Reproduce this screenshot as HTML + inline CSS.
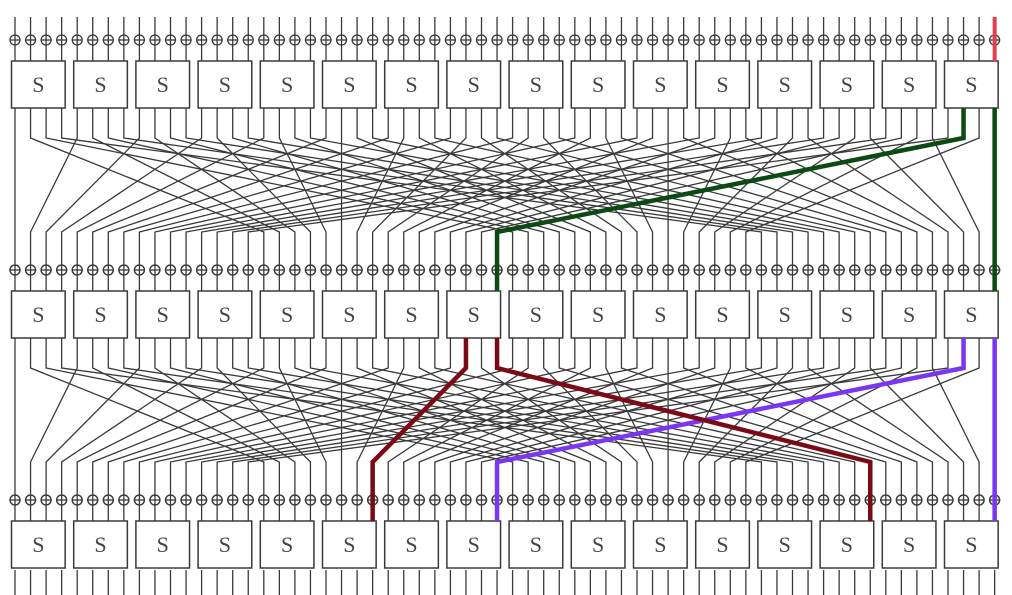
<!DOCTYPE html>
<html><head><meta charset="utf-8"><style>
html,body{margin:0;padding:0;background:#fff;}
svg{display:block;}
</style></head><body>
<svg id="net" width="1012" height="595" viewBox="0 0 1012 595" xmlns="http://www.w3.org/2000/svg"></svg>
<script>
const NS='http://www.w3.org/2000/svg';
const svg=document.getElementById('net');
const X0=15, DX=15.55;
const layerOffsets=[0,230,460];
const wx=i=>X0+i*DX;
const perm=i=>Math.floor(i/4)+16*(i%4);
// highlighted trails: [layer, fromWire, color]
const trails=[[0,61,'#0b4a12'],[0,63,'#0b4a12'],[1,61,'#7b36f2'],[1,63,'#7b36f2'],[1,29,'#7a0b16'],[1,31,'#7a0b16']];
function mk(tag,attrs,name,parent){
  const e=document.createElementNS(NS,tag);
  for(const k in attrs)e.setAttribute(k,attrs[k]);
  
  
  (parent||svg).appendChild(e);return e;
}
const g=mk('g',{stroke:'#3a3a3a','stroke-width':1.3,fill:'none'},'wires');
// top input wires
for(let i=0;i<64;i++){
  mk('line',{x1:wx(i),y1:17,x2:wx(i),y2:61},'input-wire',g);
}
for(let L=0;L<3;L++){
  const o=layerOffsets[L];
  // xor circles
  for(let i=0;i<64;i++){
    const cy=40+o;
    mk('circle',{cx:wx(i),cy:cy,r:5,fill:'#fff'},'xor-circle',g);
    mk('line',{x1:wx(i)-5,y1:cy,x2:wx(i)+5,y2:cy},'xor-bar',g);
    mk('line',{x1:wx(i),y1:cy-5,x2:wx(i),y2:cy+5},'xor-bar',g);
  }
  // sboxes
  for(let b=0;b<16;b++){
    const x=wx(4*b)-3.5, y=61+o;
    mk('rect',{x:x,y:y,width:wx(4*b+3)-wx(4*b)+7,height:47,fill:'#fff',stroke:'#3a3a3a','stroke-width':1.5},'sbox',g);
    const t=mk('text',{x:x+(wx(4*b+3)-wx(4*b)+7)/2,y:y+31,'text-anchor':'middle','font-family':'Liberation Serif, serif','font-size':22,fill:'#444',stroke:'none'},'sbox-label',g);
    t.textContent='S';
  }
  if(L<2){
    for(let i=0;i<64;i++){
      const j=perm(i);
      mk('polyline',{points:`${wx(i)},${108+o} ${wx(i)},${138+o} ${wx(j)},${232+o} ${wx(j)},${291+o}`},'perm-wire',g);
    }
  } else {
    for(let i=0;i<64;i++) mk('line',{x1:wx(i),y1:570,x2:wx(i),y2:595},'output-wire',g);
  }
}
// redraw xor on top of perm wires lower parts (circles fill white already drawn before; redraw)
for(let L=1;L<3;L++){
  const o=layerOffsets[L];
  for(let i=0;i<64;i++){
    const cy=40+o;
    mk('circle',{cx:wx(i),cy:cy,r:5,fill:'none'},'xor-circle',g);
  }
}
// highlighted
mk('line',{x1:wx(63),y1:17,x2:wx(63),y2:61,stroke:'#e0404f','stroke-width':4},'highlight-input');
for(const [L,i,c] of trails){
  const o=layerOffsets[L], j=perm(i);
  mk('polyline',{points:`${wx(i)},${108+o} ${wx(i)},${138+o} ${wx(j)},${232+o} ${wx(j)},${291+o}`,fill:'none',stroke:c,'stroke-width':4.5},'highlight-trail');
}
</script>
</body></html>
